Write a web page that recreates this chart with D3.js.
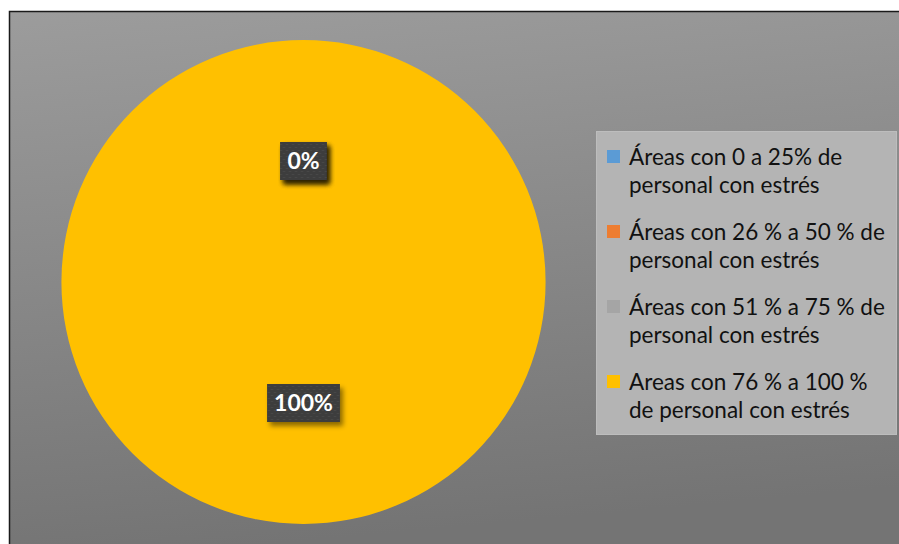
<!DOCTYPE html>
<html>
<head>
<meta charset="utf-8">
<script src="https://cdn.jsdelivr.net/npm/d3@7"></script>
<style>
  html, body { margin: 0; padding: 0; background: #ffffff; }
  svg { display: block; }
</style>
</head>
<body>
<svg id="chart" width="899" height="544"></svg>
<script>
// Stress level categories and share of areas in each
const categories = [
  ["Áreas con 0 a 25% de", "personal con estrés"],
  ["Áreas con 26 % a 50 % de", "personal con estrés"],
  ["Áreas con 51 % a 75 % de", "personal con estrés"],
  ["Areas con 76 % a 100 %", "de personal con estrés"]
];
const values = [0, 0, 0, 100];
const colors = ["#5b9bd5", "#ed7d31", "#a5a5a5", "#ffc000"];

const svg = d3.select("#chart");
const W = 899, H = 544;
const defs = svg.append("defs");

// Frame background: soft vertical gray gradient
const bg = defs.append("linearGradient").attr("id", "bgGrad")
  .attr("x1", 0).attr("y1", 0).attr("x2", 0.15).attr("y2", 1);
bg.append("stop").attr("offset", "0%").attr("stop-color", "#9c9c9c");
bg.append("stop").attr("offset", "100%").attr("stop-color", "#747474");

// Dotted texture for the data label boxes
const pat = defs.append("pattern").attr("id", "dots")
  .attr("width", 6).attr("height", 6).attr("patternUnits", "userSpaceOnUse");
pat.append("rect").attr("width", 6).attr("height", 6).attr("fill", "#3d3d3d");
pat.append("circle").attr("cx", 1.5).attr("cy", 1.5).attr("r", 0.8).attr("fill", "#4c4c4c");
pat.append("circle").attr("cx", 4.5).attr("cy", 4.5).attr("r", 0.8).attr("fill", "#4c4c4c");

const shadow = defs.append("filter").attr("id", "shadow")
  .attr("x", "-30%").attr("y", "-30%").attr("width", "170%").attr("height", "170%");
shadow.append("feDropShadow").attr("dx", 3).attr("dy", 4).attr("stdDeviation", 2.5)
  .attr("flood-color", "#000").attr("flood-opacity", 0.45);

svg.append("rect").attr("x", 9.5).attr("y", 11.5).attr("width", W).attr("height", H)
  .attr("fill", "url(#bgGrad)").attr("stroke", "#1a1a1a").attr("stroke-width", 1.5);

// Pie
const cx = 303.5, cy = 282, R = 242;
const pie = d3.pie().sort(null).value(d => d)(values);
const arc = d3.arc().innerRadius(0).outerRadius(R);
const g = svg.append("g").attr("transform", `translate(${cx},${cy})`);
g.selectAll("path.slice").data(pie).join("path")
  .attr("class", "slice")
  .attr("d", arc)
  .attr("fill", (d, i) => colors[i]);

// Data labels
const total = d3.sum(values);
const fmt = v => Math.round(v / total * 100) + "%";
const labelArc = d3.arc().innerRadius(R * 0.5).outerRadius(R * 0.5);
const labels = g.selectAll("g.lbl").data(pie).join("g").attr("class", "lbl")
  .attr("transform", d => {
    const [x, y] = labelArc.centroid(d);
    return `translate(${x},${y})`;
  });
labels.each(function(d) {
  const sel = d3.select(this);
  const txt = sel.append("text")
    .attr("text-anchor", "middle").attr("dy", "0.36em")
    .attr("font-family", "Lato, 'Open Sans', sans-serif")
    .attr("font-weight", "bold").attr("font-size", 23)
    .attr("fill", "#ffffff").text(fmt(d.data));
  const bb = txt.node().getBBox();
  sel.insert("rect", "text")
    .attr("x", bb.x - 7).attr("y", -19).attr("width", bb.width + 14).attr("height", 38)
    .attr("fill", "url(#dots)").attr("filter", "url(#shadow)");
});

// Legend
const leg = svg.append("g");
leg.append("rect").attr("x", 596.5).attr("y", 131.5).attr("width", 300).attr("height", 303)
  .attr("fill", "#b4b4b4").attr("stroke", "#bdbdbd").attr("stroke-width", 1);
const items = leg.selectAll("g.item").data(categories).join("g").attr("class", "item")
  .attr("transform", (d, i) => `translate(607,${157 + i * 75})`);
items.append("rect").attr("x", 0).attr("y", -7).attr("width", 13).attr("height", 13)
  .attr("fill", (d, i) => colors[i]);
items.append("text")
  .attr("font-family", "Lato, 'Open Sans', sans-serif").attr("font-size", 22.5)
  .attr("fill", "#111111")
  .selectAll("tspan").data(d => d).join("tspan")
  .attr("x", 22).attr("y", (d, j) => j * 28).attr("dy", "0.36em")
  .text(d => d);
</script>
</body>
</html>
